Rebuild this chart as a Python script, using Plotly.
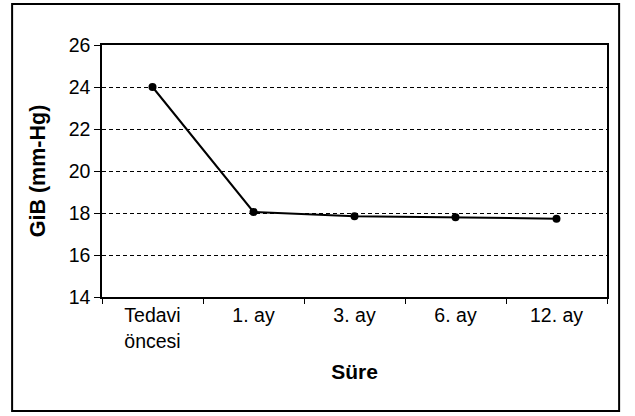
import plotly.graph_objects as go

categories = ["Tedavi<br>öncesi", "1. ay", "3. ay", "6. ay", "12. ay"]
gib_values = [24.0, 18.05, 17.85, 17.8, 17.73]
y_ticks = [14, 16, 18, 20, 22, 24, 26]

fig = go.Figure()
fig.add_trace(go.Scatter(
    x=categories, y=gib_values, mode="lines+markers",
    line=dict(color="black", width=2),
    marker=dict(color="black", size=8, symbol="circle"),
    showlegend=False,
))

fig.update_layout(
    width=635, height=416,
    margin=dict(l=102, r=28, t=45, b=119),
    paper_bgcolor="white", plot_bgcolor="white",
    font=dict(family="Liberation Sans, Arial, sans-serif", color="black"),
    xaxis=dict(
        type="category", categoryorder="array", categoryarray=categories,
        range=[-0.5, 4.5], tickson="boundaries",
        ticks="outside", ticklen=5, tickcolor="black",
        showline=True, linecolor="black", linewidth=1.5, mirror=True,
        showgrid=False, tickfont=dict(size=19.5),
        title=dict(text="<b>Süre</b>", font=dict(size=21), standoff=14),
    ),
    yaxis=dict(
        range=[14, 26], tickvals=y_ticks,
        ticks="outside", ticklen=6, tickcolor="black",
        showline=True, linecolor="black", linewidth=1.5, mirror=True,
        showgrid=True, gridcolor="black", gridwidth=1, griddash="4px,3px",
        zeroline=False, tickfont=dict(size=19.5),
        title=dict(text="<b>GiB (mm-Hg)</b>", font=dict(size=21.5), standoff=17),
    ),
)

fig.add_shape(type="rect", xref="paper", yref="paper",
              x0=-0.178, x1=1.024, y0=-0.452, y1=1.163,
              line=dict(color="black", width=2), fillcolor="rgba(0,0,0,0)")

fig.write_html("out.html", config={"displayModeBar": False},
               post_script="document.body.style.margin='0';")
